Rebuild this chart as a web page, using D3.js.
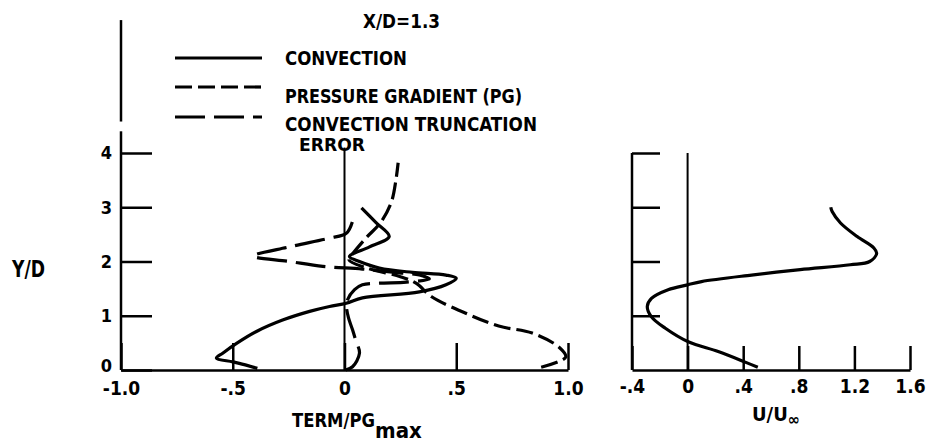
<!DOCTYPE html>
<html>
<head>
<meta charset="utf-8">
<script src="https://cdn.jsdelivr.net/npm/d3@7"></script>
<style>
  body { margin: 0; background: #fff; }
  svg text { font-family: "DejaVu Sans Condensed", "DejaVu Sans", sans-serif; font-stretch: condensed; font-weight: bold; fill: #000; }
</style>
</head>
<body>
<svg id="chart" width="930" height="447"></svg>
<script>
// values, [term or U/Uinf, Y/D]
var convection = [[-0.39,0.03],[-0.44,0.09],[-0.5,0.15],[-0.573,0.22],[-0.545,0.31],[-0.483,0.49],
  [-0.394,0.71],[-0.277,0.92],[-0.156,1.08],[-0.067,1.17],[0.008,1.23],[0.08,1.33],[0.335,1.44],
  [0.454,1.57],[0.5,1.69],[0.454,1.75],[0.304,1.8],[0.156,1.88],[0.067,2.0],[0.022,2.09],
  [0.112,2.27],[0.2,2.46],[0.14,2.72],[0.076,2.99]];
var pressureGradient = [[0.88,0.05],[0.99,0.24],[0.96,0.42],[0.84,0.68],[0.69,0.81],[0.54,1.05],
  [0.39,1.35],[0.32,1.6],[0.25,1.72],[0.1,1.88],[0.02,2.03],[0.04,2.16],[0.1,2.45],[0.16,2.71],
  [0.21,3.1],[0.23,3.5],[0.24,3.82]];
var truncationError = [[0.005,0.0],[0.036,0.06],[0.067,0.31],[0.05,0.55],[0.036,0.74],[0.018,0.96],
  [0.009,1.16],[0.013,1.29],[0.045,1.48],[0.08,1.57],[0.156,1.6],[0.277,1.62],[0.38,1.68],
  [0.335,1.75],[0.246,1.79],[0.08,1.86],[-0.097,1.91],[-0.246,2.0],[-0.409,2.1],[-0.246,2.27],
  [-0.067,2.43],[0.008,2.52],[0.035,2.73]];
var velocity = [[0.505,0.05],[0.41,0.15],[0.22,0.34],[0.005,0.52],[-0.16,0.77],[-0.26,0.98],
  [-0.29,1.17],[-0.26,1.32],[-0.14,1.48],[0.0,1.57],[0.1,1.63],[0.46,1.75],[0.81,1.85],
  [1.17,1.94],[1.31,2.0],[1.36,2.15],[1.34,2.25],[1.22,2.46],[1.1,2.71],[1.04,2.92],[1.03,3.0]];

var yTicks = [0, 1, 2, 3, 4];
var leftXTicks = [-1, -0.5, 0, 0.5, 1];
var leftXLabels = ["-1.0", "-.5", "0", ".5", "1.0"];
var rightXTicks = [-0.4, 0, 0.4, 0.8, 1.2, 1.6];
var rightXLabels = ["-.4", "0", ".4", ".8", "1.2", "1.6"];
var legendNames = ["CONVECTION", "PRESSURE GRADIENT (PG)", "CONVECTION TRUNCATION"];

var svg = d3.select("#chart");
svg.append("rect").attr("width", 930).attr("height", 447).attr("fill", "#fff");

var y = d3.scaleLinear().domain([0, 4]).range([370, 153]);
var xL = d3.scaleLinear().domain([-1, 1]).range([121, 568]);
var xR = d3.scaleLinear().domain([-0.4, 1.6]).range([632, 910]);

function styleAxis(g) {
  g.selectAll("path, line").attr("stroke", "#000").attr("stroke-width", 2.5);
  g.selectAll("text").attr("font-size", 19).attr("fill", "#000")
    .attr("font-family", null).attr("font-weight", "bold");
}

// left panel
svg.append("g").attr("transform", "translate(0,370)")
  .call(d3.axisBottom(xL).tickValues(leftXTicks).tickSize(-27).tickSizeOuter(0).tickPadding(12)
    .tickFormat(function(d, i) { return leftXLabels[i]; }))
  .call(styleAxis);
svg.append("g").attr("transform", "translate(121,0)")
  .call(d3.axisLeft(y).tickValues(yTicks).tickSize(-31).tickSizeOuter(0).tickPadding(9)
    .tickFormat(d3.format("d")))
  .call(styleAxis)
  .call(function(g) {
    g.select(".domain").remove();
    g.selectAll("text").attr("font-size", 18);
    // bottom label sits a little above the x axis line
    g.selectAll(".tick").filter(function(d) { return d === 0; }).select("text").attr("dy", "0.1em");
  });
// left vertical axis line runs up past the top tick, with a break
[[0, 4.4], [4.58, 6.45]].forEach(function(s) {
  svg.append("line").attr("x1", 121).attr("x2", 121).attr("y1", y(s[0])).attr("y2", y(s[1]))
    .attr("stroke", "#000").attr("stroke-width", 2.5);
});
svg.append("line").attr("x1", xL(0)).attr("x2", xL(0)).attr("y1", y(0)).attr("y2", y(4.1))
  .attr("stroke", "#000").attr("stroke-width", 2);

// right panel
svg.append("g").attr("transform", "translate(0,370)")
  .call(d3.axisBottom(xR).tickValues(rightXTicks).tickSize(-24).tickSizeOuter(0).tickPadding(10)
    .tickFormat(function(d, i) { return rightXLabels[i]; }))
  .call(styleAxis);
svg.append("g").attr("transform", "translate(632,0)")
  .call(d3.axisLeft(y).tickValues(yTicks.slice(1)).tickSize(-28).tickSizeOuter(0).tickFormat(""))
  .call(styleAxis)
  .call(function(g) { g.select(".domain").remove(); });
svg.append("line").attr("x1", 632).attr("x2", 632).attr("y1", y(0)).attr("y2", y(4))
  .attr("stroke", "#000").attr("stroke-width", 2.5);
svg.append("line").attr("x1", xR(0)).attr("x2", xR(0)).attr("y1", y(0)).attr("y2", y(4))
  .attr("stroke", "#000").attr("stroke-width", 2);

// curves
var lineL = d3.line().x(function(d) { return xL(d[0]); }).y(function(d) { return y(d[1]); })
  .curve(d3.curveCatmullRom.alpha(0.5));
var lineR = d3.line().x(function(d) { return xR(d[0]); }).y(function(d) { return y(d[1]); })
  .curve(d3.curveCatmullRom.alpha(0.5));

var series = [
  { data: convection, dash: null },
  { data: pressureGradient, dash: "17,6" },
  { data: truncationError, dash: "30,9" }
];
svg.selectAll("path.curve").data(series).enter().append("path")
  .attr("class", "curve")
  .attr("d", function(s) { return lineL(s.data); })
  .attr("fill", "none").attr("stroke", "#000").attr("stroke-width", 3.2)
  .attr("stroke-dasharray", function(s) { return s.dash; });
svg.append("path").attr("d", lineR(velocity))
  .attr("fill", "none").attr("stroke", "#000").attr("stroke-width", 3.2);

// legend
var legendY = [58, 87, 117];
var legendTextY = [65, 103, 131];
var legendWidths = [122, 237, 252];
series.forEach(function(s, i) {
  svg.append("line").attr("x1", 175).attr("x2", 262).attr("y1", legendY[i]).attr("y2", legendY[i])
    .attr("stroke", "#000").attr("stroke-width", 3.2).attr("stroke-dasharray", s.dash);
  svg.append("text").attr("x", 285).attr("y", legendTextY[i]).attr("font-size", 19)
    .attr("textLength", legendWidths[i]).attr("lengthAdjust", "spacingAndGlyphs")
    .text(legendNames[i]);
});
svg.append("text").attr("x", 299).attr("y", 151).attr("font-size", 17)
  .attr("textLength", 66).attr("lengthAdjust", "spacingAndGlyphs").text("ERROR");

// titles
svg.append("text").attr("x", 363).attr("y", 28).attr("font-size", 19)
  .attr("textLength", 77).attr("lengthAdjust", "spacingAndGlyphs").text("X/D=1.3");
svg.append("text").attr("x", 12).attr("y", 277).attr("font-size", 23)
  .attr("textLength", 33).attr("lengthAdjust", "spacingAndGlyphs").text("Y/D");
var tt = svg.append("text").attr("x", 292).attr("y", 427).attr("font-size", 20);
tt.append("tspan").attr("textLength", 83).attr("lengthAdjust", "spacingAndGlyphs").text("TERM/PG");
tt.append("tspan").attr("dy", 11).attr("font-size", 22).text("max");
var ut = svg.append("text").attr("x", 752).attr("y", 421).attr("font-size", 20);
ut.append("tspan").text("U/U");
ut.append("tspan").attr("dy", 4).attr("font-size", 16).text("∞");
</script>
</body>
</html>
